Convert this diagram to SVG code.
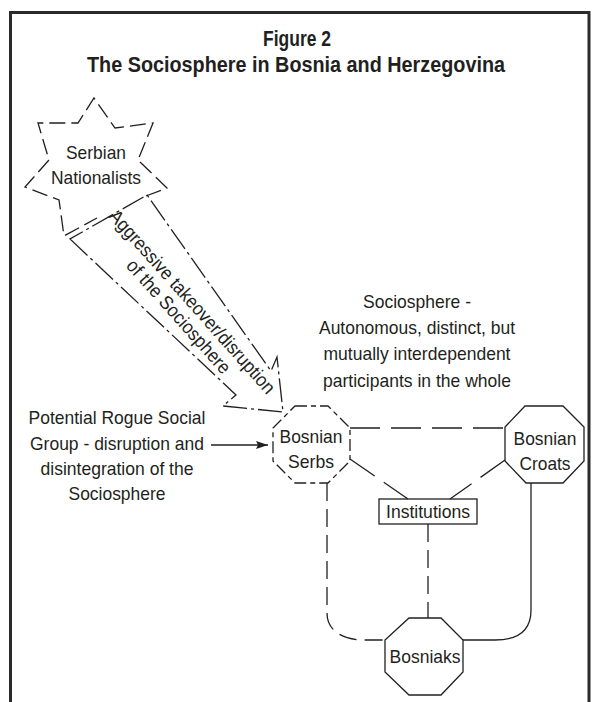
<svg xmlns="http://www.w3.org/2000/svg" width="592" height="702" viewBox="0 0 592 702">
<style>
text{font-family:"Liberation Sans",Arial,sans-serif;font-size:19px;fill:#231f20;text-anchor:middle}
.title{font-weight:bold;font-size:22px}
.ln{fill:none;stroke:#231f20;stroke-width:1.3}
.star{stroke-dasharray:16 6}
.dashdot{stroke-dasharray:24 4 3 4}
.oct-d{stroke-dasharray:12 4 5 4}
.dl{stroke-dasharray:30 11}
.dm{stroke-dasharray:18 8}
</style>
<defs>
<marker id="ah" viewBox="0 0 12 8" refX="12" refY="4" markerWidth="12" markerHeight="8" markerUnits="userSpaceOnUse" orient="auto">
<path d="M0,0 L12,4 L0,8 L2,4 Z" fill="#231f20"/>
</marker>
</defs>
<rect width="592" height="702" fill="#fff"/>
<path d="M10.5,702 V12.5 H589 V702" fill="none" stroke="#2b2b2b" stroke-width="3"/>
<g id="title">
<text class="title" x="297" y="46" textLength="68" lengthAdjust="spacingAndGlyphs">Figure 2</text>
<text class="title" x="296" y="72" textLength="418" lengthAdjust="spacingAndGlyphs">The Sociosphere in Bosnia and Herzegovina</text>
</g>
<g id="serbian-nationalists">
<path class="ln star" d="M146,196 L167,188 L138,160 L153,123 L115,128 L94,98 L78,123 L38,123 L49,160 L25,187 L59,200 L64,236 L97,218"/>
<text x="96" y="159" textLength="60" lengthAdjust="spacingAndGlyphs">Serbian</text>
<text x="96" y="184" textLength="90" lengthAdjust="spacingAndGlyphs">Nationalists</text>
</g>
<g id="aggressive-arrow">
<path class="ln dashdot" d="M70,239 L236,395 L223,406 L283,412 L277,357 L271,371 L147,195 Z"/>
<g transform="translate(192,302) rotate(48.3)">
<text x="0" y="6" textLength="239" lengthAdjust="spacingAndGlyphs">Aggressive takeover/disruption</text>
<text x="2" y="26" textLength="146" lengthAdjust="spacingAndGlyphs">of the Sociosphere</text>
</g>
</g>
<g id="sociosphere-label">
<text x="417" y="308" textLength="108" lengthAdjust="spacingAndGlyphs">Sociosphere -</text>
<text x="417" y="334" textLength="196" lengthAdjust="spacingAndGlyphs">Autonomous, distinct, but</text>
<text x="417" y="360" textLength="187" lengthAdjust="spacingAndGlyphs">mutually interdependent</text>
<text x="417" y="387" textLength="188" lengthAdjust="spacingAndGlyphs">participants in the whole</text>
</g>
<g id="rogue-label">
<text x="117" y="424" textLength="177" lengthAdjust="spacingAndGlyphs">Potential Rogue Social</text>
<text x="117" y="450" textLength="174" lengthAdjust="spacingAndGlyphs">Group - disruption and</text>
<text x="117" y="475" textLength="153" lengthAdjust="spacingAndGlyphs">disintegration of the</text>
<text x="117" y="500" textLength="97" lengthAdjust="spacingAndGlyphs">Sociosphere</text>
</g>
<g id="bosnian-serbs">
<path class="ln oct-d" d="M295,406 L328,406 L350,428 L350,461 L328,483 L295,483 L273,461 L273,428 Z"/>
<text x="311" y="443" textLength="63" lengthAdjust="spacingAndGlyphs">Bosnian</text>
<text x="311" y="468" textLength="46" lengthAdjust="spacingAndGlyphs">Serbs</text>
</g>
<g id="bosnian-croats">
<path class="ln" d="M525,406 L563,406 L584,427 L584,461 L563,483 L526,483 L505,461 L505,427 Z"/>
<text x="545" y="445" textLength="63" lengthAdjust="spacingAndGlyphs">Bosnian</text>
<text x="545" y="470" textLength="51" lengthAdjust="spacingAndGlyphs">Croats</text>
</g>
<g id="institutions">
<rect class="ln" x="379" y="499" width="98" height="25"/>
<text x="428" y="518" textLength="84" lengthAdjust="spacingAndGlyphs">Institutions</text>
</g>
<g id="bosniaks">
<path class="ln" d="M409,618 L441,618 L463,640 L463,672 L441,695 L409,695 L385,672 L385,640 Z"/>
<text x="425" y="663" textLength="71" lengthAdjust="spacingAndGlyphs">Bosniaks</text>
</g>
<g id="connectors">
<line class="ln" x1="211" y1="445" x2="268" y2="445" marker-end="url(#ah)"/>
<path class="ln dl" d="M350,428 H505"/>
<path class="ln dl" d="M350,459 L408,499"/>
<path class="ln dl" d="M505,460 L450,499"/>
<path class="ln dm" d="M428,524 V618"/>
<path class="ln dm" d="M327,483 V613 C327,628 338,638 360,640 H385"/>
<path class="ln" d="M531,483 V610 C531,628 521,640 495,640 H463"/>
</g>
</svg>
